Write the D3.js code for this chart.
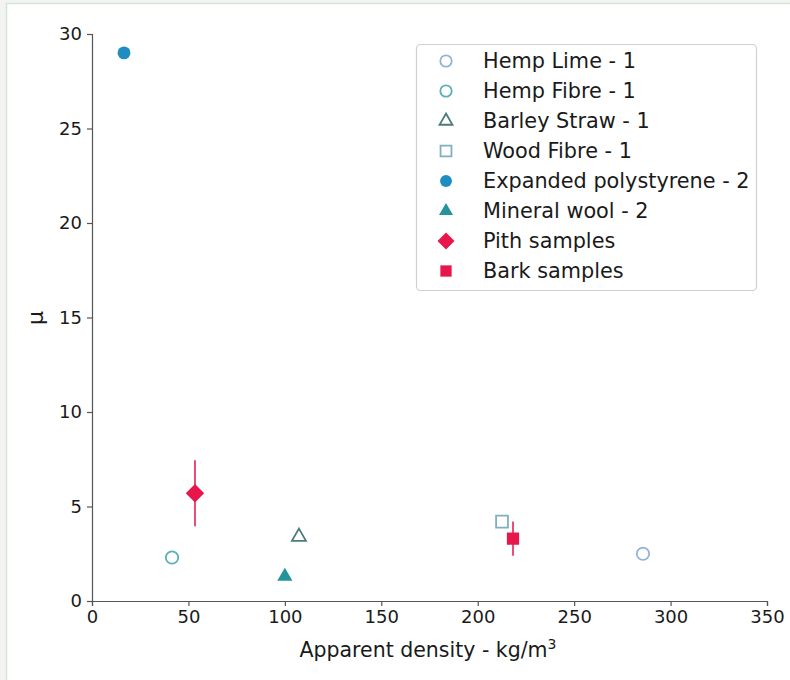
<!DOCTYPE html>
<html><head><meta charset="utf-8">
<script src="https://cdn.jsdelivr.net/npm/d3@7"></script>
<style>
html,body{margin:0;padding:0;background:#f3f3f3;}
svg{display:block;font-family:"DejaVu Sans",sans-serif;}
</style></head>
<body>
<svg id="chart" width="790" height="680"></svg>
<script>
const seriesNames = ["Hemp Lime - 1","Hemp Fibre - 1","Barley Straw - 1","Wood Fibre - 1","Expanded polystyrene - 2","Mineral wool - 2","Pith samples","Bark samples"];
const densities = [285.7, 41.5, 107.3, 212.6, 16.6, 100, 53.4, 218.3];
const muValues = [2.5, 2.3, 3.4, 4.2, 29.0, 1.3, 5.7, 3.3];
const muErrors = [0, 0, 0, 0, 0, 0, 1.75, 0.9];
const markerShapes = ["circle","circle","triangle","square","circle","triangle","diamond","square"];
const markerFilled = [false,false,false,false,true,true,true,true];
const markerColors = ["#93b4d6","#5ab0b6","#4d7b7b","#7eb0bd","#1f8dbf","#24939b","#e8174b","#e8174b"];
const xTicks = [0,50,100,150,200,250,300,350];
const yTicks = [0,5,10,15,20,25,30];

const svg = d3.select("#chart");
svg.append("rect").attr("x",6.5).attr("y",3.5).attr("width",800).attr("height",700)
  .attr("fill","#ffffff").attr("stroke","#cfe6d6").attr("stroke-width",1.5);

const x = d3.scaleLinear().domain([0,350]).range([92,767]);
const y = d3.scaleLinear().domain([0,30]).range([601,34]);

const axisColor = "#555";
const gx = svg.append("g").attr("transform","translate(0,601)")
  .call(d3.axisBottom(x).tickValues(xTicks).tickSize(5).tickPadding(4));
const gy = svg.append("g").attr("transform","translate(92,0)")
  .call(d3.axisLeft(y).tickValues(yTicks).tickSize(5).tickPadding(5));
[gx,gy].forEach(g=>{
  g.select(".domain").attr("stroke",axisColor).attr("stroke-width",1.2);
  g.selectAll(".tick line").attr("stroke",axisColor).attr("stroke-width",1.2);
  g.selectAll(".tick text").attr("fill","#1a1a1a").style("font-size","18px").style("font-family","DejaVu Sans");
});

const xl = svg.append("text").attr("x",428).attr("y",657).attr("text-anchor","middle")
  .attr("fill","#1a1a1a").style("font-size","20.5px");
xl.append("tspan").text("Apparent density - kg/m");
xl.append("tspan").attr("dy",-8).style("font-size","14px").text("3");
svg.append("text").attr("transform","translate(43,318) rotate(-90)").attr("text-anchor","middle")
  .attr("fill","#1a1a1a").style("font-size","22px").text("μ");

function symbolFor(shape, size){
  const map = {circle:d3.symbolCircle, triangle:d3.symbolTriangle, square:d3.symbolSquare, diamond:d3.symbolSquare};
  return d3.symbol().type(map[shape]).size(size)();
}
function drawMarker(g, i, cx, cy, scale){
  const shape = markerShapes[i];
  const filled = markerFilled[i];
  let size;
  if(shape==="circle") size = filled? 130 : 120;
  else if(shape==="triangle") size = filled? 100 : 85;
  else if(shape==="square") size = filled? 150 : 140;
  else size = 170;
  size *= scale;
  const p = g.append("path").attr("d", symbolFor(shape,size))
    .attr("transform", `translate(${cx},${cy})` + (shape==="diamond"?" rotate(45)":""));
  if(filled) p.attr("fill",markerColors[i]).attr("stroke","none");
  else p.attr("fill","none").attr("stroke",markerColors[i]).attr("stroke-width",1.8);
}

const pts = svg.append("g");
densities.forEach((d,i)=>{
  if(muErrors[i]>0){
    pts.append("line").attr("x1",x(d)).attr("x2",x(d))
      .attr("y1",y(muValues[i]-muErrors[i])).attr("y2",y(muValues[i]+muErrors[i]))
      .attr("stroke",markerColors[i]).attr("stroke-width",1.8).attr("opacity",0.85);
  }
});
densities.forEach((d,i)=>{ drawMarker(pts,i,x(d),y(muValues[i]),1); });

const lg = svg.append("g");
lg.append("rect").attr("x",416.5).attr("y",44.5).attr("width",340).attr("height",246).attr("rx",4)
  .attr("fill","#fff").attr("stroke","#d0d0d0").attr("stroke-width",1.2);
seriesNames.forEach((n,i)=>{
  const ly = 61 + i*30;
  drawMarker(lg,i,446,ly,0.85);
  lg.append("text").attr("x",483).attr("y",ly).attr("dy","0.35em").attr("fill","#1a1a1a")
    .style("font-size","20.8px").text(n);
});
</script>
</body></html>
